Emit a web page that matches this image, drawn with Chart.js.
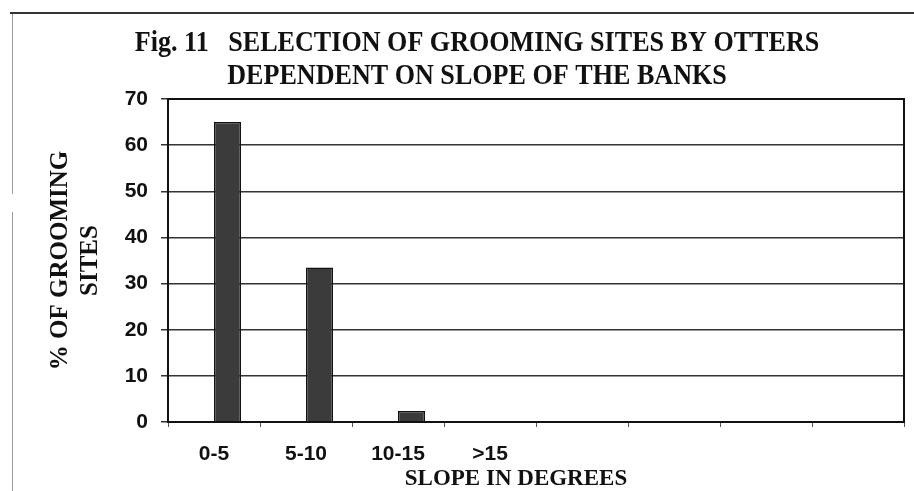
<!DOCTYPE html>
<html>
<head>
<meta charset="utf-8">
<script src="https://cdn.jsdelivr.net/npm/chart.js@4.4.1/dist/chart.umd.min.js"></script>
<style>
  body { margin: 0; background: #fff; }
  #wrap { position: relative; width: 914px; height: 491px; }
  #grafico { position: absolute; left: 0; top: 0; }
  .linha { position: absolute; }
</style>
</head>
<body>
<div id="wrap">
  <div class="linha" style="left:10px; top:12px; width:904px; height:2px; background:#333;"></div>
  <div class="linha" style="left:12px; top:14px; width:1px; height:180px; background:#9a9a9a;"></div>
  <div class="linha" style="left:12px; top:212px; width:1px; height:279px; background:#9a9a9a;"></div>
  <canvas id="grafico" width="914" height="491"></canvas>
</div>
<script>
// dados do grafico
const categorias = ['0-5', '5-10', '10-15', '>15', '', '', '', ''];
const serieVazia = [null, null, null, null, null, null, null, null];
const locaisGrooming = [65, 33.5, 2.4, 0, null, null, null, null];
const yMin = 0;
const yMax = 70;
const yPasso = 10;

const tituloLinhas = ['Fig. 11   SELECTION OF GROOMING SITES BY OTTERS', 'DEPENDENT ON SLOPE OF THE BANKS'];
const tituloEixoY = ['% OF GROOMING', 'SITES'];
const tituloEixoX = 'SLOPE IN DEGREES';

// titulo da figura (fonte condensada), titulo do eixo x + moldura da area do grafico
const pluginTitulo = {
    id: 'pluginTitulo',
    afterDraw(chart) {
        const ctx = chart.ctx;
        const a = chart.chartArea;
        ctx.save();
        ctx.fillStyle = '#111';
        ctx.font = 'bold 30px "Liberation Serif"';
        ctx.textAlign = 'center';
        ctx.textBaseline = 'alphabetic';
        tituloLinhas.forEach((linha, i) => {
            ctx.save();
            ctx.translate(477, 51 + i * 33);
            ctx.scale(0.87, 1);
            ctx.fillText(linha, 0, 0);
            ctx.restore();
        });

        // o titulo do eixo x fica um pouco a esquerda do centro, como no original
        ctx.font = 'bold 23px "Liberation Serif"';
        ctx.fillText(tituloEixoX, 516, 485);

        ctx.strokeStyle = '#111';
        ctx.lineWidth = 2;
        ctx.strokeRect(a.left, a.top, a.right - a.left, a.bottom - a.top);
        ctx.restore();
    }
};

const myChart = new Chart(document.getElementById('grafico'), {
    type: 'bar',
    data: {
        labels: categorias,
        datasets: [{
            label: '',
            data: serieVazia,
            backgroundColor: '#3b3b3b'
        }, {
            label: '% of grooming sites',
            data: locaisGrooming,
            backgroundColor: '#3b3b3b',
            borderColor: '#111',
            borderWidth: 1.5
        }]
    },
    options: {
        responsive: false,
        animation: false,
        datasets: {
            bar: { categoryPercentage: 0.587, barPercentage: 1 }
        },
        layout: {
            padding: { top: 99, right: 10, left: 0, bottom: 0 }
        },
        plugins: {
            legend: { display: false },
            tooltip: { enabled: false },
            title: { display: false }
        },
        scales: {
            x: {
                afterFit: (scale) => { scale.height = 69; },
                grid: {
                    drawOnChartArea: false,
                    drawTicks: true,
                    tickLength: 5,
                    color: '#555',
                    lineWidth: 1
                },
                border: { color: '#111', width: 2 },
                ticks: {
                    color: '#111',
                    padding: 15,
                    maxRotation: 0,
                    autoSkip: false,
                    font: { family: '"Liberation Sans"', size: 21, weight: 'bold' }
                }
            },
            y: {
                min: yMin,
                max: yMax,
                afterFit: (scale) => { scale.width = 168; },
                grid: {
                    color: '#333',
                    lineWidth: 1.5,
                    tickLength: 7
                },
                border: { color: '#111', width: 2 },
                ticks: {
                    stepSize: yPasso,
                    color: '#111',
                    padding: 13,
                    font: { family: '"Liberation Sans"', size: 21, weight: 'bold' }
                },
                title: {
                    display: true,
                    text: tituloEixoY,
                    color: '#111',
                    padding: { top: 46, bottom: 0 },
                    font: { family: '"Liberation Serif"', size: 25, weight: 'bold', lineHeight: 1.2 }
                }
            }
        }
    },
    plugins: [pluginTitulo]
});
</script>
</body>
</html>
